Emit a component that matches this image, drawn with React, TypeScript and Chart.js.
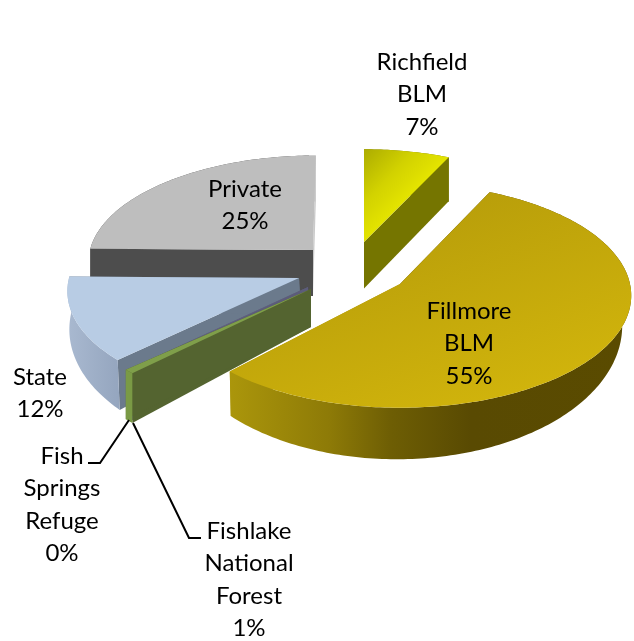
import React, { useEffect, useRef } from "react";
import { Chart, registerables } from "chart.js";

Chart.register(...registerables);

// ---- data ----
const categories = ["Richfield BLM", "Fillmore BLM", "Fishlake National Forest", "Fish Springs Refuge", "State", "Private"];
const shares = [7, 55, 0.6, 0.2, 12.4, 24.8];
const sliceColors = ["#d8d800", "#c9ad0a", "#7f9f4a", "#60607f", "#b8cce4", "#bebebe"];
const labelLines = [
  ["Richfield", "BLM"],
  ["Fillmore", "BLM"],
  ["Fishlake", "National", "Forest"],
  ["Fish", "Springs", "Refuge"],
  ["State"],
  ["Private"],
];

// ---- view: how each exploded slice is projected (styling only) ----
type View = {
  cx: number; cy: number; R: number; R2: number; p: number; sh: number;
  d0: number; d1: number; k: number; bx: number;
  start: string; end: string; rim: [number, string][];
  top?: { a: number[]; stops: [number, string][] };
};
const views: View[] = [
  { cx: 364, cy: 242, R: 217, R2: 102, p: 0.1, sh: 0, d0: 46.5, d1: 0.03, k: 1, bx: 0, start: "#757500", end: "#757500", rim: [[0, "#757500"], [1, "#757500"]],
    top: { a: [363, 150, 412, 198], stops: [[0, "#acac00"], [0.55, "#d2d200"], [1, "#e6e600"]] } },
  { cx: 400, cy: 284, R: 230, R2: 111, p: 0.103, sh: 0, d0: 28, d1: 0.19, k: 0.975, bx: -3.25, start: "#5a4b00", end: "#a8920a",
    rim: [[0, "#ab960b"], [0.25, "#8d7a07"], [0.4, "#6e5e04"], [0.6, "#594a02"], [1, "#5a4b00"]],
    top: { a: [440, 190, 520, 420], stops: [[0, "#b79d0a"], [1, "#d3b60c"]] } },
  { cx: 311, cy: 289, R: 242, R2: 107, p: 0.1, sh: 0, d0: 38, d1: 0.14, k: 1, bx: 0, start: "#546430", end: "#546430", rim: [[0, "#7a9a45"], [1, "#7a9a45"]] },
  { cx: 308, cy: 287, R: 235, R2: 112, p: 0.1, sh: 0, d0: 38, d1: 0.14, k: 1, bx: 2, start: "#5c5c7a", end: "#5c5c7a", rim: [[0, "#6a6a88"], [1, "#6a6a88"]] },
  { cx: 299, cy: 278, R: 230, R2: 110, p: 0.1, sh: -0.04, d0: 36, d1: 0.17, k: 1, bx: 2, start: "#6b7a8c", end: "#6b7a8c",
    rim: [[0, "#a9b9d0"], [1, "#95a6bf"]] },
  { cx: 313, cy: 250, R: 223, R2: 104, p: 0.1, sh: -0.03, d0: 46, d1: 0, k: 1, bx: 0, start: "#4d4d4d", end: "#cacaca",
    rim: [[0, "#4d4d4d"], [0.97, "#4d4d4d"], [0.97, "#cacaca"], [1, "#cacaca"]] },
];
const paintOrder = [5, 0, 4, 3, 2, 1];

const labelSpots = [
  { x: 422, y: 62 },
  { x: 469, y: 311 },
  { x: 249, y: 531 },
  { x: 62, y: 456 },
  { x: 40, y: 377 },
  { x: 245, y: 189 },
];
const lineStep = 32.4;
const leaders = [
  [[129, 420], [100, 463], [88, 463]],
  [[133, 423], [189, 538], [201, 538]],
];

const project = (v: View, theta: number, r = 1): [number, number] => {
  const a = r * Math.sin(theta);
  const b = -r * Math.cos(theta);
  const w = 1 - v.p * b;
  const dy = (v.R2 * b) / w;
  return [v.cx + (v.R * a) / w + v.sh * dy, v.cy + dy];
};
const lower = (v: View, q: [number, number]): [number, number] => [
  v.cx + (q[0] - v.cx) * v.k + v.bx,
  q[1] + v.d0 + v.d1 * (q[1] - v.cy),
];
const poly = (ctx: CanvasRenderingContext2D, pts: [number, number][], fill: string | CanvasGradient) => {
  ctx.beginPath();
  pts.forEach((q, i) => (i ? ctx.lineTo(q[0], q[1]) : ctx.moveTo(q[0], q[1])));
  ctx.closePath();
  ctx.fillStyle = fill;
  ctx.fill();
};

const pie3d = {
  id: "pie3d",
  beforeDatasetDraw(chart: any) {
    const ctx: CanvasRenderingContext2D = chart.ctx;
    const arcs = chart.getDatasetMeta(0).data;
    paintOrder.forEach((i) => {
      const v = views[i];
      const t0 = arcs[i].startAngle + Math.PI / 2;
      const t1 = arcs[i].endAngle + Math.PI / 2;
      const n = Math.max(2, Math.ceil(((t1 - t0) * 180) / Math.PI));
      const rim: [number, number][] = [];
      for (let s = 0; s <= n; s++) rim.push(project(v, t0 + ((t1 - t0) * s) / n));
      const apex = project(v, 0, 0);
      const xs = rim.map((q) => q[0]);
      // radial cut faces
      poly(ctx, [apex, rim[0], lower(v, rim[0]), lower(v, apex)], v.start);
      poly(ctx, [apex, rim[n], lower(v, rim[n]), lower(v, apex)], v.end);
      // outer wall
      const minX = Math.min(...xs), maxX = Math.max(...xs);
      const g = ctx.createLinearGradient(minX, 0, Math.max(maxX, minX + 1), 0);
      v.rim.forEach(([o, c]) => g.addColorStop(o, c));
      poly(ctx, [...rim, ...rim.map((q) => lower(v, q)).reverse()], g);
      // top
      let top: string | CanvasGradient = arcs[i].options.backgroundColor;
      if (v.top) {
        const tg = ctx.createLinearGradient(v.top.a[0], v.top.a[1], v.top.a[2], v.top.a[3]);
        v.top.stops.forEach(([o, c]) => tg.addColorStop(o, c));
        top = tg;
      }
      poly(ctx, [apex, ...rim], top);
    });
    return false;
  },
  afterDraw(chart: any) {
    const ctx: CanvasRenderingContext2D = chart.ctx;
    ctx.save();
    ctx.strokeStyle = "#000";
    ctx.lineWidth = 2;
    leaders.forEach((l) => {
      ctx.beginPath();
      l.forEach((q, i) => (i ? ctx.lineTo(q[0], q[1]) : ctx.moveTo(q[0], q[1])));
      ctx.stroke();
    });
    ctx.fillStyle = "#000";
    ctx.font = '24px Lato, "Open Sans", sans-serif';
    ctx.textAlign = "center";
    ctx.textBaseline = "middle";
    const total = shares.reduce((a, b) => a + b, 0);
    labelSpots.forEach((s, i) => {
      [...labelLines[i], Math.round((shares[i] / total) * 100) + "%"].forEach((t, j) => {
        ctx.fillText(t, s.x, s.y + j * lineStep);
      });
    });
    ctx.restore();
  },
};

export default function App() {
  const ref = useRef<HTMLCanvasElement>(null);
  useEffect(() => {
    document.body.style.margin = "0";
    const chart = new Chart(ref.current!, {
      type: "pie",
      data: { labels: categories, datasets: [{ data: shares, backgroundColor: sliceColors, borderWidth: 0 }] },
      options: {
        responsive: false,
        animation: false,
        plugins: { legend: { display: false }, tooltip: { enabled: false } },
      },
      plugins: [pie3d],
    } as any);
    return () => chart.destroy();
  }, []);
  return <canvas ref={ref} width={634} height={641} style={{ display: "block" }} />;
}
